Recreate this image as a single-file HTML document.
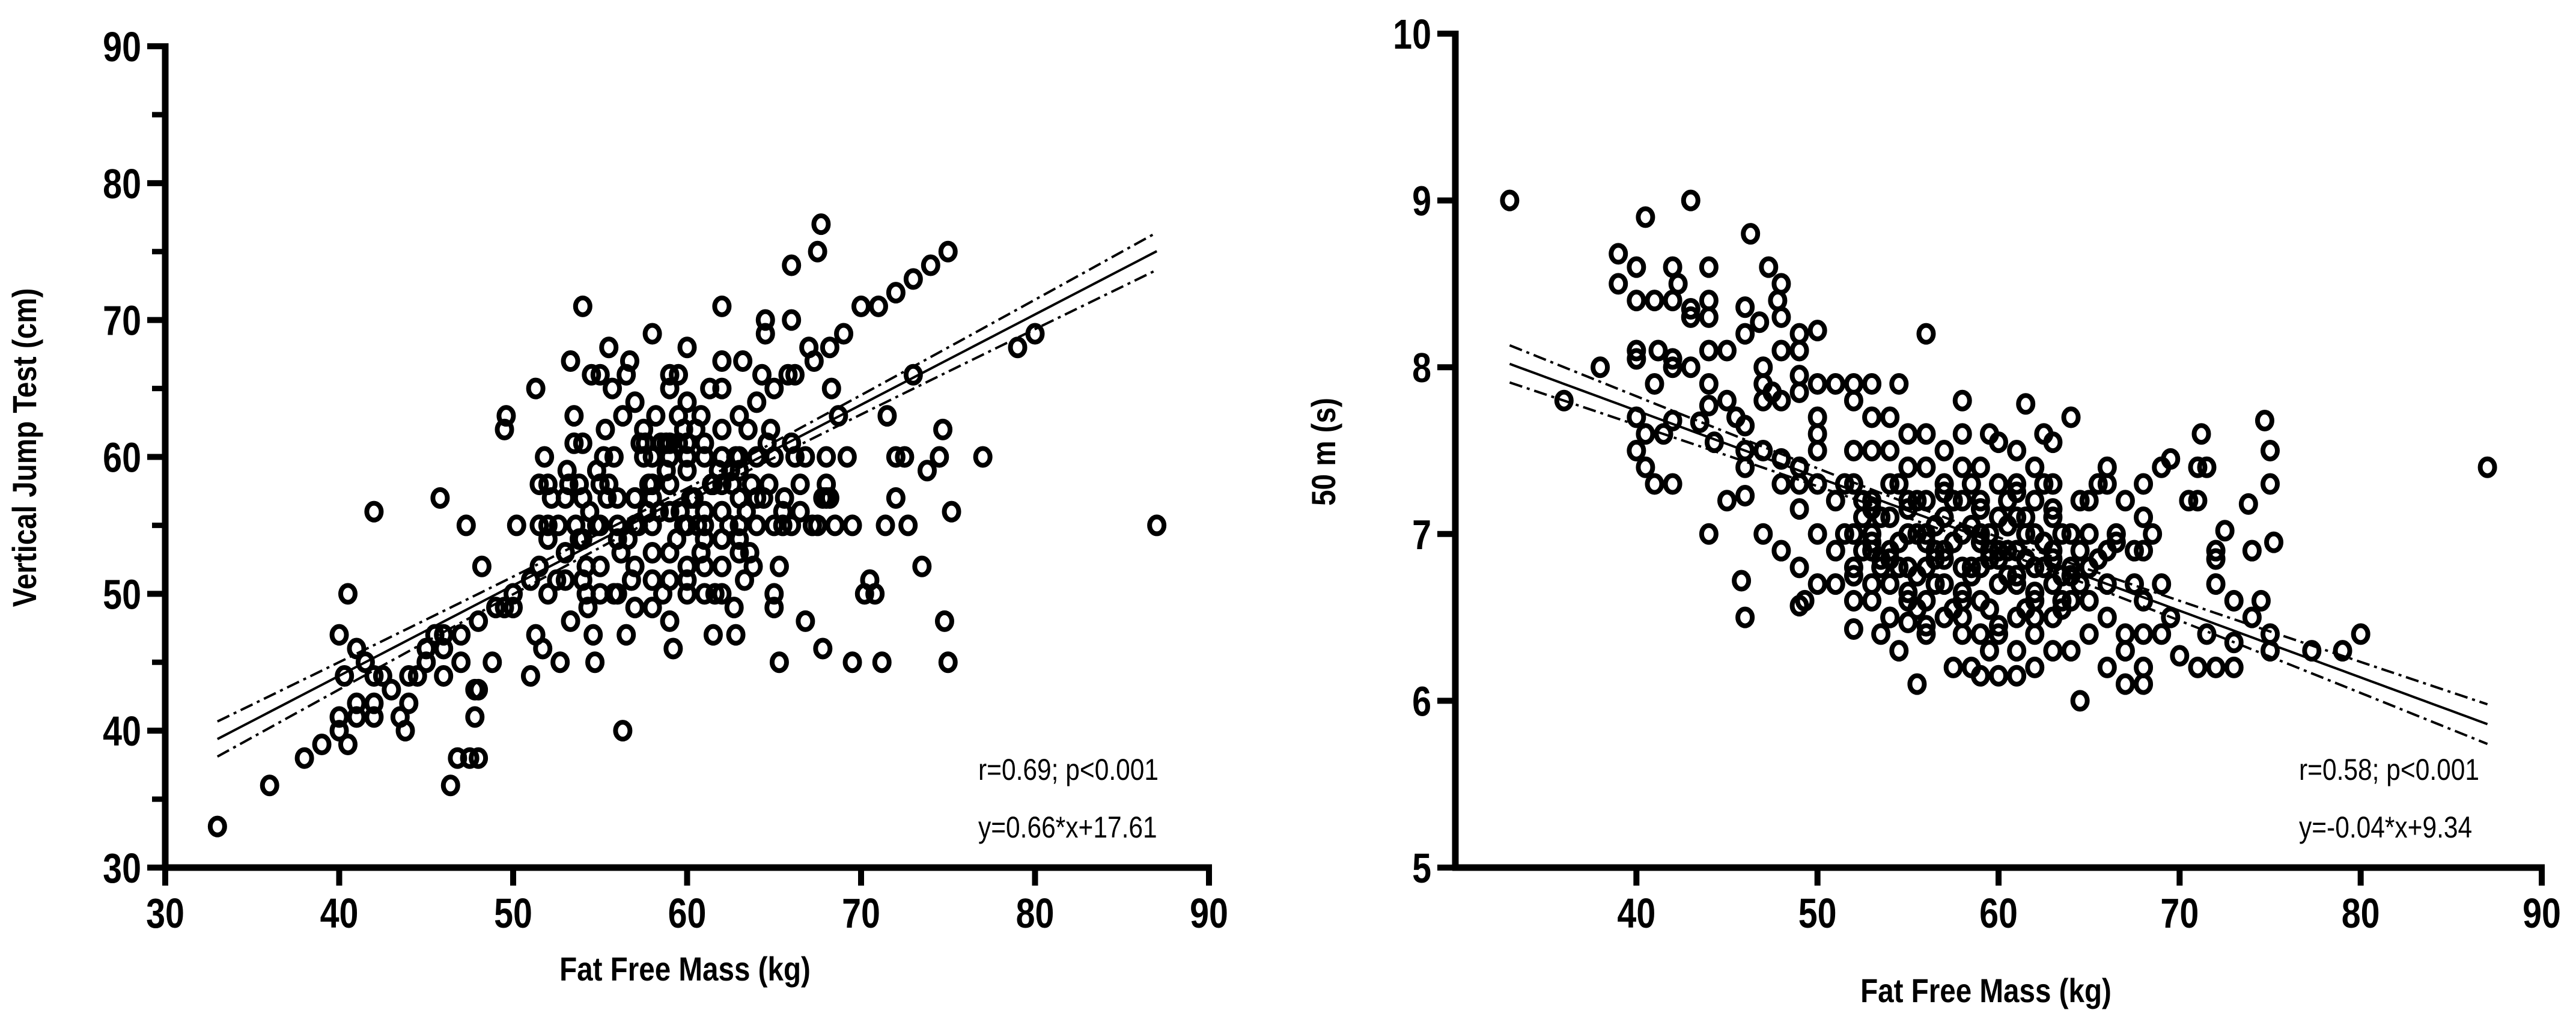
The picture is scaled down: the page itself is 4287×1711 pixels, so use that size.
<!DOCTYPE html>
<html><head><meta charset="utf-8"><style>
html,body{margin:0;padding:0;background:#fff;}
svg{display:block;}
text{font-family:"Liberation Sans",Arial,sans-serif;fill:#000;}
</style></head><body>
<svg id="chart" width="4287" height="1711" viewBox="0 0 4287 1711" xmlns="http://www.w3.org/2000/svg">
<g id="left"></g>
<g id="right"></g>
</svg>
<script>
// ---- Left panel data: Fat Free Mass (kg) vs Vertical Jump Test (cm)
const leftX = [33,36,38,39,40,40.5,40,40.3,40,40.5,41,41,41,41.5,42,42,42,42,42.5,43,43.5,43.8,44,44,44.5,45,45,45.5,45.8,46,46,46,46.4,46.8,47,47,47.3,47.5,47.8,47.8,48,48,48,48.2,48.8,49,49.5,49.5,49.6,50,50,50.2,51,51,51.3,51.3,51.5,51.5,51.5,51.7,51.8,52,52,52,52.2,52.5,52.7,53,53,53.1,53.3,53.3,53.5,53.5,53.8,54,54,54,54,54.2,54.3,54.5,54.6,54.7,54.8,55,55,55,55.3,55.5,55.5,55.7,55.8,56,56,56.3,56.3,56.5,56.5,56.7,57,57,57,57,57.3,57.5,57.5,57.7,58,58,58,58,58,58.2,58.5,58.8,59,59,59,59,59,59,59.2,59.5,59.5,59.5,59.8,60,60,60,60,60,60.2,60.5,60.8,61,61,61,61,61.3,61.5,61.5,62,62,62,62,62,62,62,62.5,62.7,62.8,63,63,63,63,63,63.2,63.3,63.5,63.7,64,64,64,64.3,64.5,64.5,64.7,64.8,65,65,65,65,65.3,65.3,65.5,65.5,65.8,66,66,66,66.2,66.5,66.5,66.8,66.8,67,67.3,67.5,67.5,67.7,67.8,67.8,68,68,68,68.2,68.3,68.5,68.7,69,69.2,69.5,69.5,70,70.2,70.5,70.8,71,71.2,71.4,71.5,72,72,72,72.5,72.7,73,73,73.5,73.8,74,74.5,74.7,74.8,75,75,75.2,77,79,80,87,55,56,57,58,59,60,61,62,63,60,59,58,57,61,60,62,56,55,54,53,52,64,63,65,66,62,61,60,59,58,
53.6,54.4,55.4,56.2,57.2,58.4,59.4,60.4,61.4,62.4,63.4,64.4,53.8,54.8,55.8,56.8,57.8,58.8,59.8,60.8,61.8,62.8,63.8,52.6,53.2,54.2,55.2,56.6,57.6,58.6,59.6,60.6,61.6,62.6,63.6,64.6,65.6,66.2,67.2,68.2];
const leftY = [33,36,38,39,40,39,41,44,47,50,46,41,42,45,56,44,42,41,44,43,41,40,42,44,44,46,45,47,57,47,46,44,36,38,45,47,55,38,41,43,43,38,48,52,45,49,49,62,63,50,49,55,51,44,47,65,52,58,55,46,60,50,54,58,57,51,45,53,51,59,48,67,61,63,54,71,51,57,61,50,49,66,47,45,55,58,66,52,62,68,58,65,50,54,57,40,63,66,47,67,64,52,49,55,61,62,60,56,69,58,57,53,49,63,61,59,66,65,60,56,51,48,46,66,63,61,55,68,64,59,52,51,57,62,63,55,60,54,50,65,47,58,71,65,67,62,56,52,50,59,49,47,63,60,57,55,54,67,51,62,58,64,60,55,66,70,69,58,62,60,65,50,49,45,52,56,55,66,70,74,61,66,58,56,60,48,68,67,75,55,77,57,46,60,58,57,68,65,55,63,69,60,55,45,71,50,51,50,71,45,55,63,72,57,60,60,55,73,66,52,59,74,60,62,48,75,45,56,60,68,69,55,55,55,57,55,58,55,56,58,59,60,61,60,57,52,50,54,50,50,54,57,55,57,53,55,55,60,61,61,53,51,
55,56,57,53,55,56,54,57,58,55,56,57,58,59,60,51,58,61,62,53,59,60,52,55,58,52,60,54,61,50,56,55,50,58,53,61,57,60,55,57];
const leftXTicks = [30,40,50,60,70,80,90];
const leftYTicks = [30,40,50,60,70,80,90];
const leftYMinor = [35,45,55,65,75,85];
const leftFit = {slope:0.66, intercept:17.61};

// ---- Right panel data: Fat Free Mass (kg) vs 50 m (s)
const rightX = [33,36,38,39,39,40,40,40,40,40,40,40.5,40.5,40.5,41,41,41,41.2,41.5,42,42,42,42,42,42,42.3,43,43,43,43,43.5,44,44,44,44,44,44,44,44.3,45,45,45,45.5,45.8,46,46,46,46,46,46,46,46.3,46.8,47,47,47,47,47,47.3,47.5,47.8,48,48,48,48,48,48,48,49,49,49,49,49,49,49,49,49,49.3,50,50,50,50,50,50,50,50,51,51,51,51,52,52,52,52,52,52,52,52,53,53,53,53,53,53,53,53,53.5,54,54,54,54,54,54,54,54.5,54.5,55,55,55,55,55,55,55,55.5,56,56,56,56,56,56,56,56,57,57,57,57,57,57,57.5,58,58,58,58,58,58,58,58,58.5,59,59,59,59,59,59,59,59.5,59.5,60,60,60,60,60,60,60,61,61,61,61,61,61,61,61,61.5,62,62,62,62,62,62,62,62.5,63,63,63,63,63,63,63,64,64,64,64,64,64.5,64.5,65,65,65,65,65,65.5,66,66,66,66,66,66,66.5,67,67,67,67,67.5,67.5,68,68,68,68,68,68,68,68.5,69,69,69,69.5,69.5,70,70.5,71,71,71,71.2,71.5,71.5,72,72,72,72,72.5,73,73,73,73.8,74,74,74.5,74.7,75,75,75,75,75.2,77.3,79,80,87,52.5,53.5,54.5,55.5,56.5,57.5,58.5,59.5,60.5,61.5,62.5,63.5,56.5,58.5,60.5,55.5,57.5,59.5,61.5,63.5,
51.5,52.5,53.5,54.5,55.5,56.5,57.5,58.5,59.5,60.5,61.5,62.5,63.5,64.5,51.5,52.5,53.5,54.5,55.5,56.5,57.5,58.5,59.5,60.5,61.5,62.5,63.5,64.5,52,53,54,55,56,57,58,59,60,61,62,63,64,65,53,55,57,59,61,63,65.5,66.5,54,56,58,60,62];
const rightY = [9.0,7.8,8.0,8.68,8.5,8.6,8.4,8.1,8.05,7.7,7.5,8.9,7.6,7.4,8.4,7.9,7.3,8.1,7.6,8.6,8.4,8.05,8.0,7.68,7.3,8.5,9.0,8.3,8.35,8.0,7.67,8.6,8.4,8.3,8.1,7.9,7.77,7.0,7.55,8.1,7.8,7.2,7.7,6.72,8.36,8.2,7.65,7.5,7.4,7.23,6.5,8.8,8.27,8.0,7.9,7.8,7.5,7.0,8.6,7.85,8.4,8.5,8.3,8.1,7.8,7.45,7.3,6.9,8.2,8.1,7.95,7.85,7.4,7.3,7.15,6.8,6.57,6.6,8.22,7.9,7.7,7.6,7.5,7.3,7.0,6.7,7.9,7.2,6.9,6.7,7.9,7.8,7.5,7.3,7.0,6.8,6.6,6.43,7.9,7.7,7.5,7.2,7.0,6.9,6.7,6.6,6.4,7.7,7.5,7.3,7.1,6.9,6.7,6.5,7.9,6.3,7.6,7.4,7.2,7.0,6.8,6.6,6.47,6.1,8.2,7.6,7.4,7.2,7.0,6.8,6.6,6.4,7.5,7.3,7.1,6.9,6.7,6.5,6.2,7.8,7.6,7.4,7.2,7.0,6.8,6.6,6.4,6.2,7.4,7.2,7.0,6.8,6.6,6.4,6.15,7.6,6.3,7.55,7.3,7.1,6.9,6.7,6.4,6.15,7.5,7.3,7.1,6.9,6.7,6.5,6.3,6.15,7.78,7.4,7.2,7.0,6.8,6.6,6.4,6.2,7.6,7.55,7.3,7.1,6.9,6.7,6.5,6.3,7.7,7.0,6.8,6.6,6.3,6.0,7.2,7.2,7.0,6.8,6.6,6.4,7.3,7.4,7.3,6.9,6.7,6.5,6.2,7.0,7.2,6.4,6.3,6.1,6.7,6.9,7.3,7.1,6.9,6.6,6.4,6.2,6.1,7.0,7.4,6.7,6.4,7.45,6.5,6.27,7.2,7.4,7.2,6.2,7.6,7.4,6.4,6.9,6.85,6.7,6.2,7.02,6.6,6.35,6.2,7.18,6.9,6.5,6.6,7.68,7.5,7.3,6.4,6.3,6.95,6.3,6.3,6.4,7.4,7.1,6.85,6.95,6.75,6.85,6.95,6.75,6.85,6.75,6.85,6.95,6.75,7.05,7.05,7.05,6.55,6.55,6.55,6.55,6.55,
7.0,6.9,7.1,6.8,7.0,6.9,7.2,6.8,7.0,6.9,7.1,6.8,7.0,6.9,7.3,7.2,6.8,7.3,7.2,6.7,7.2,7.3,6.9,7.2,7.0,7.3,6.6,6.7,6.75,6.95,6.85,6.65,6.95,6.85,6.65,6.95,6.85,6.75,6.65,6.85,6.75,6.6,7.15,7.15,7.25,7.15,7.25,7.15,6.85,6.95,6.5,6.45,6.5,6.45,6.5];
const rightXTicks = [40,50,60,70,80,90];
const rightYTicks = [5,6,7,8,9,10];
const rightFit = {slope:-0.04, intercept:9.34};

const NS = "http://www.w3.org/2000/svg";
function mk(parent, tag, attrs){const e=document.createElementNS(NS,tag);for(const k in attrs)e.setAttribute(k,attrs[k]);parent.appendChild(e);return e;}

function drawPanel(g, cfg){
  const sx = v => cfg.x0 + (v - cfg.xmin) * (cfg.x1 - cfg.x0) / (cfg.xmax - cfg.xmin);
  const sy = v => cfg.y0 - (v - cfg.ymin) * (cfg.y0 - cfg.y1) / (cfg.ymax - cfg.ymin);
  const pg = mk(g,'g',{});
  
  
  for(let i=0;i<cfg.xs.length;i++){
    const c = mk(pg,'ellipse',{cx:sx(cfg.xs[i]),cy:sy(cfg.ys[i]),rx:12,ry:14,fill:'none',stroke:'#000','stroke-width':8});
    
    
  }
  const fx = x => cfg.fit.slope*x + cfg.fit.intercept;
  const hw = x => cfg.ci*Math.sqrt(1+Math.pow((x-59)/cfg.ciw,2));
  let dm='',du='',dl='';
  for(let x=33;x<=87.001;x+=0.5){
    const p = (x===33?'M':'L');
    dm += p+sx(x)+' '+sy(fx(x))+' ';
    du += p+sx(x)+' '+sy(fx(x)+hw(x))+' ';
    dl += p+sx(x)+' '+sy(fx(x)-hw(x))+' ';
  }
  const fl = mk(g,'path',{d:dm,fill:'none',stroke:'#000','stroke-width':4});
  
  
  const cu = mk(g,'path',{d:du,fill:'none',stroke:'#000','stroke-width':4,'stroke-dasharray':'22 8 5 8'});
  
  
  const cl = mk(g,'path',{d:dl,fill:'none',stroke:'#000','stroke-width':4,'stroke-dasharray':'22 8 5 8'});
  
  
  const ya = mk(g,'line',{x1:cfg.x0,y1:cfg.y1-5,x2:cfg.x0,y2:cfg.y0+5,stroke:'#000','stroke-width':11});
  
  
  const xa = mk(g,'line',{x1:cfg.x0-5,y1:cfg.y0,x2:cfg.x1+5,y2:cfg.y0,stroke:'#000','stroke-width':11});
  
  
  cfg.yt.forEach(v=>{
    mk(g,'line',{x1:cfg.x0-30,y1:sy(v),x2:cfg.x0,y2:sy(v),stroke:'#000','stroke-width':10});
    const t = mk(g,'text',{x:cfg.x0-40,y:sy(v)+25,'text-anchor':'end','font-size':70,'font-weight':'bold',transform:`translate(${cfg.x0-40},0) scale(0.82,1) translate(${-(cfg.x0-40)},0)`});
    t.textContent = v;
    
    
  });
  (cfg.ym||[]).forEach(v=>{
    mk(g,'line',{x1:cfg.x0-22,y1:sy(v),x2:cfg.x0,y2:sy(v),stroke:'#000','stroke-width':9});
  });
  cfg.xt.forEach(v=>{
    mk(g,'line',{x1:sx(v),y1:cfg.y0,x2:sx(v),y2:cfg.y0+30,stroke:'#000','stroke-width':10});
    const t = mk(g,'text',{x:sx(v),y:cfg.y0+100,'text-anchor':'middle','font-size':70,'font-weight':'bold',transform:`translate(${sx(v)},0) scale(0.82,1) translate(${-sx(v)},0)`});
    t.textContent = v;
    
    
  });
  const xt = mk(g,'text',{x:cfg.xtx,y:cfg.xty,'text-anchor':'middle','font-size':56,'font-weight':'bold',transform:`translate(${cfg.xtx},0) scale(0.85,1) translate(${-cfg.xtx},0)`});
  xt.textContent='Fat Free Mass (kg)';
  
  
  const yt = mk(g,'text',{x:0,y:0,'text-anchor':'middle','font-size':56,'font-weight':'bold',transform:`translate(${cfg.ytx},${cfg.yty}) rotate(-90) scale(0.85,1)`});
  yt.textContent=cfg.ytitle;
  
  
  cfg.notes.forEach((n,i)=>{
    const t = mk(g,'text',{x:cfg.nx,y:cfg.ny+i*96,'font-size':50,transform:`translate(${cfg.nx},0) scale(0.85,1) translate(${-cfg.nx},0)`});
    t.textContent=n;
    
    
  });
}

drawPanel(document.getElementById('left'),{
  x0:275,x1:2012,xmin:30,xmax:90,y0:1444,y1:77,ymin:30,ymax:90,
  xs:leftX,ys:leftY,xt:leftXTicks,yt:leftYTicks,ym:leftYMinor,fit:leftFit,ci:0.5,ciw:11,
  xtx:1140,xty:1632,ytx:60,yty:745,ytitle:'Vertical Jump Test (cm)',
  notes:['r=0.69; p<0.001','y=0.66*x+17.61'],nx:1628,ny:1298
});
drawPanel(document.getElementById('right'),{
  x0:2422,x1:4230,xmin:30,xmax:90,y0:1444,y1:56,ymin:5,ymax:10,
  xs:rightX,ys:rightY,xt:rightXTicks,yt:rightYTicks,ym:[],fit:rightFit,ci:0.04,ciw:10,
  xtx:3305,xty:1668,ytx:2222,yty:752,ytitle:'50 m (s)',
  notes:['r=0.58; p<0.001','y=-0.04*x+9.34'],nx:3826,ny:1298
});
</script>
</body></html>
